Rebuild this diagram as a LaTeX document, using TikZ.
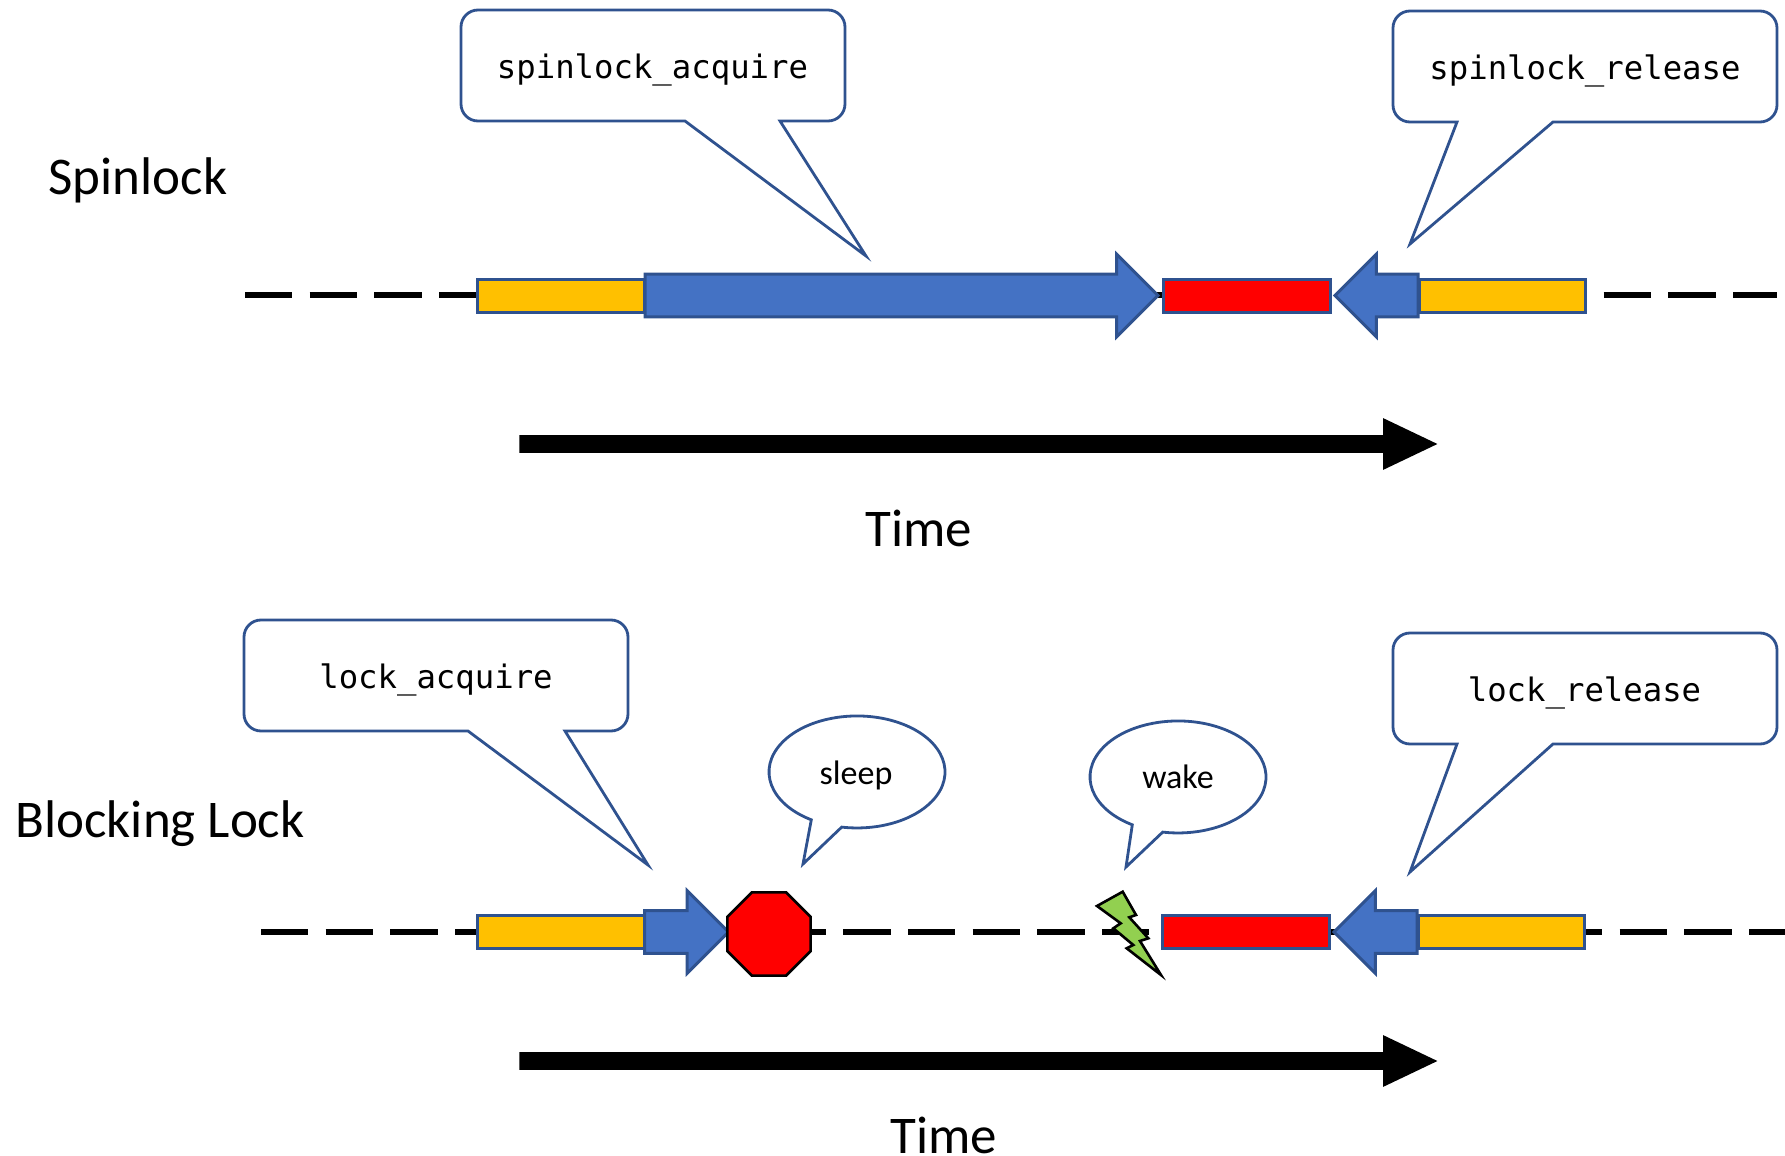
\documentclass[tikz,border=0pt]{standalone}
\usepackage{fontspec}
\setmainfont{Carlito}
\setmonofont{DejaVu Sans Mono}
\usetikzlibrary{shapes.geometric,shapes.arrows}
\definecolor{lineblue}{HTML}{2F528F}
\definecolor{fillblue}{HTML}{4472C4}
\definecolor{lockyellow}{HTML}{FFC000}
\definecolor{boltgreen}{HTML}{92D050}
\tikzset{
  timeline/.style={line width=3pt, dash pattern=on 23.65pt off 8.7pt},
  yellowbox/.style={draw=lineblue, fill=lockyellow, line width=1.5pt, minimum height=16.5pt, inner sep=0pt},
  redbox/.style={draw=lineblue, fill=red, line width=1.5pt, minimum height=16.5pt, minimum width=83.5pt, inner sep=0pt},
  bluearrow/.style={single arrow, draw=lineblue, fill=fillblue, line width=1.5pt, inner ysep=9.9pt, inner xsep=0pt, single arrow head extend=10pt, anchor=tail},
  timearrow/.style={single arrow, fill=black, inner ysep=4.25pt, inner xsep=0pt, minimum height=459pt, single arrow head extend=8.5pt, single arrow tip angle=51, anchor=tail},
  callout/.style={draw=lineblue, fill=white, line width=1.4pt},
  bigtext/.style={font=\fontsize{26.5}{30}\selectfont, inner sep=0pt},
  smalltext/.style={font=\fontsize{17}{20}\selectfont},
  codetext/.style={font=\ttfamily\fontsize{16.15}{20}\selectfont},
}
\begin{document}
\begin{tikzpicture}[x=0.5pt, y=-0.5pt]
  \useasboundingbox (0,0) rectangle (1785,1156);

  % spinlock row
  \coordinate (spinstart) at (245, 295.3);
  \coordinate (spinend) at (1777, 295.3);
  \draw[timeline] (spinstart) -- (spinend);

  \node (spinyellow1) at (560.5, 295.5) [yellowbox, minimum width=83.5pt] {};
  \node (spinyellow2) at (1502.5, 295.5) [yellowbox, minimum width=83pt] {};
  \node (spinred) at (1246.5, 295.5) [redbox] {};
  \node (spinarrow1) at (643.5, 295.5) [bluearrow, minimum height=256.5pt] {};
  \node (spinarrow2) at (1419.5, 295.5) [bluearrow, minimum height=41.5pt, shape border rotate=180] {};

  \draw[callout] (685,121) -- (866,256) -- (780,121) [rounded corners=8.5pt] -- (845,121) -- (845,10) -- (461,10) -- (461,121) [sharp corners] -- cycle;
  \draw[callout] (1457,122) -- (1410,244) -- (1553,122) [rounded corners=8.5pt] -- (1777,122) -- (1777,11) -- (1393,11) -- (1393,122) [sharp corners] -- cycle;
  \node (spinacq) at (652.5, 70) [codetext] {spinlock\_acquire};
  \node (spinrel) at (1585, 71) [codetext] {spinlock\_release};

  \node (spinlabel) at (138, 180) [bigtext] {Spinlock};
  \node (timearrow1) at (519, 444) [timearrow] {};
  \node (timelabel1) at (919, 528) [bigtext] {Time};

  % blocking lock row
  \coordinate (blockstart) at (261, 932);
  \coordinate (blockend) at (1785, 932);
  \draw[timeline] (blockstart) -- (blockend);

  \node (blockyellow1) at (560.5, 932) [yellowbox, minimum width=83.5pt] {};
  \node (blockyellow2) at (1501.5, 932) [yellowbox, minimum width=83pt] {};
  \node (blockred) at (1245.5, 932) [redbox] {};
  \node (blockarrow1) at (643, 932) [bluearrow, minimum height=42pt] {};
  \node (blockarrow2) at (1418.5, 932) [bluearrow, minimum height=41.5pt, shape border rotate=180] {};
  \node (stop) at (769, 934) [regular polygon, regular polygon sides=8, draw=black, fill=red, line width=1.3pt, minimum size=45pt, inner sep=0pt] {};
  \draw[draw=black, fill=boltgreen, line width=1.3pt] (1122.7,891.7) -- (1136,915) -- (1129.3,917.3) -- (1148.3,938.3) -- (1140,941) -- (1161,975) -- (1126.7,948.3) -- (1133.3,945) -- (1113.3,928.3) -- (1120.7,923.3) -- (1097,906) -- cycle;

  \draw[callout] (468,731) -- (648,865) -- (565,731) [rounded corners=8.5pt] -- (628,731) -- (628,620) -- (244,620) -- (244,731) [sharp corners] -- cycle;
  \draw[callout] (1457,744) -- (1410,872) -- (1553,744) [rounded corners=8.5pt] -- (1777,744) -- (1777,633) -- (1393,633) -- (1393,744) [sharp corners] -- cycle;
  \draw[callout] (811.3,819.8) arc[start angle=121.3, end angle=460, x radius=88, y radius=56] -- (803,864) -- cycle;
  \draw[callout] (1132.3,824.8) arc[start angle=121.3, end angle=460, x radius=88, y radius=56] -- (1126,867) -- cycle;
  \node (blockacq) at (436, 679.5) [codetext] {lock\_acquire};
  \node (blockrel) at (1584.5, 692.5) [codetext] {lock\_release};
  \node (sleeplabel) at (856, 775) [smalltext] {sleep};
  \node (wakelabel) at (1178, 777) [smalltext] {wake};

  \node (blocklabel) at (160, 824) [bigtext] {Blocking Lock};
  \node (timearrow2) at (519, 1061) [timearrow] {};
  \node (timelabel2) at (944, 1135) [bigtext] {Time};
\end{tikzpicture}
\end{document}
